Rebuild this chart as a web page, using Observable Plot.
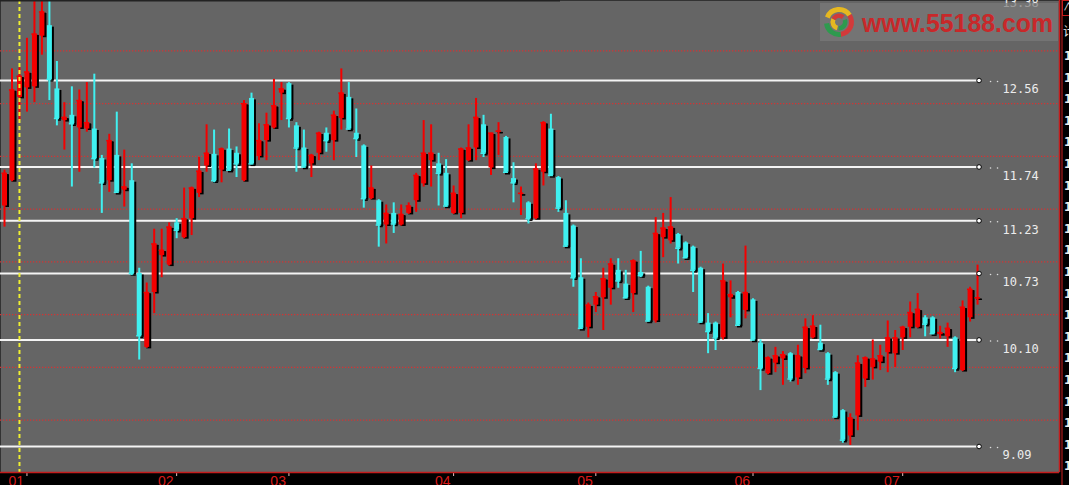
<!DOCTYPE html>
<html><head><meta charset="utf-8">
<script src="https://cdn.jsdelivr.net/npm/d3@7"></script>
<script src="https://cdn.jsdelivr.net/npm/@observablehq/plot@0.6"></script>
<style>html,body{margin:0;padding:0;background:#000;overflow:hidden}</style>
</head><body><div id="chart"></div>
<script>
// ---- data (daily candles) ----
const openP  = [11.37,11.61,12.40,12.49,12.50,12.98,13.08,12.48,12.18,12.23,12.11,12.10,12.10,11.82,11.61,11.85,11.52,11.61,10.73,10.03,10.55,10.90,10.81,11.21,11.07,11.25,11.49,11.75,11.86,11.71,11.91,11.87,11.61,12.39,11.84,11.99,12.11,12.44,12.53,12.13,11.92,11.77,11.87,12.06,11.99,12.20,12.40,12.06,11.94,11.44,11.42,11.19,11.30,11.19,11.30,11.42,11.58,11.80,11.77,11.68,11.30,11.30,11.80,11.92,12.14,11.73,12.07,12.02,11.63,11.48,11.40,11.25,11.69,12.10,11.64,11.30,11.18,10.69,10.22,10.43,10.50,10.59,10.76,10.63,10.54,10.74,10.60,10.28,11.07,11.04,11.10,11.02,10.98,10.78,10.26,10.26,10.12,10.50,10.55,10.38,10.48,10.07,9.78,9.88,9.92,9.97,9.74,9.83,10.12,10.07,9.97,9.79,9.43,9.19,9.38,9.73,9.84,9.89,9.98,9.97,10.12,10.22,10.22,10.31,10.31,10.15,10.13,10.12,9.81,10.31,10.49];
const highP  = [11.71,12.67,12.68,12.96,13.40,13.45,13.38,12.74,12.35,12.50,12.47,12.54,12.62,11.85,12.05,12.26,11.90,11.77,10.78,10.64,11.15,11.15,11.21,11.25,11.54,11.55,11.83,12.14,12.09,11.92,12.10,11.93,12.37,12.44,12.15,12.25,12.57,12.54,12.54,12.16,12.09,11.86,12.07,12.11,12.27,12.67,12.54,12.29,11.95,11.75,11.43,11.38,11.40,11.38,11.40,11.68,12.18,12.14,11.87,11.81,11.56,11.92,12.14,12.39,12.23,12.06,12.16,12.03,11.78,11.55,11.41,11.77,12.17,12.24,11.65,11.42,11.19,10.87,10.45,10.55,10.78,10.87,10.87,10.76,10.86,10.94,10.61,11.26,11.30,11.45,11.11,11.03,10.99,10.79,10.35,10.27,10.82,10.66,10.56,10.99,10.49,10.10,9.94,10.03,9.99,9.98,10.05,10.30,10.33,10.24,9.98,9.80,9.44,9.40,9.95,9.94,10.10,10.05,10.28,10.19,10.23,10.46,10.54,10.33,10.32,10.23,10.26,10.13,10.47,10.60,10.81];
const lowP   = [11.17,11.60,12.18,12.26,12.35,12.80,12.37,12.13,11.90,11.55,11.69,12.07,11.73,11.30,11.50,11.49,11.36,10.71,9.91,10.02,10.35,10.69,10.80,11.06,11.06,11.09,11.45,11.69,11.59,11.59,11.70,11.64,11.60,11.76,11.80,11.80,12.10,12.18,12.11,11.69,11.73,11.64,11.80,11.88,11.80,12.09,12.09,11.83,11.35,11.43,10.98,11.01,11.11,11.18,11.29,11.31,11.55,11.55,11.37,11.36,11.29,11.25,11.79,11.80,11.83,11.66,11.85,11.68,11.40,11.28,11.20,11.24,11.56,11.65,11.31,10.98,10.60,10.20,10.12,10.36,10.19,10.43,10.59,10.49,10.36,10.69,10.27,10.26,10.88,11.01,10.82,10.87,10.55,10.26,9.97,10.00,10.10,10.31,10.23,10.30,10.09,9.62,9.77,9.79,9.67,9.70,9.67,9.78,10.11,10.00,9.67,9.36,9.12,9.10,9.24,9.65,9.72,9.81,9.79,9.84,10.00,10.12,10.21,10.13,10.15,10.11,10.03,9.79,9.80,10.27,10.43];
const closeP = [11.68,12.47,12.60,12.64,13.00,13.21,12.57,12.20,12.21,12.15,12.37,12.16,11.82,11.59,11.99,11.50,11.55,10.73,10.14,10.55,11.01,10.95,11.17,11.14,11.25,11.54,11.70,11.87,11.61,11.91,11.71,11.77,12.34,11.77,11.99,12.14,12.32,12.48,12.20,11.92,11.74,11.85,12.06,11.99,12.23,12.44,12.10,12.01,11.44,11.54,11.19,11.30,11.20,11.29,11.37,11.66,11.87,11.87,11.68,11.37,11.49,11.91,11.92,12.21,11.87,12.06,12.08,11.69,11.59,11.49,11.25,11.72,12.16,11.66,11.35,10.99,10.69,10.21,10.43,10.51,10.68,10.82,10.66,10.50,10.85,10.71,10.28,11.11,11.16,11.17,10.97,10.88,10.76,10.27,10.18,10.12,10.66,10.53,10.24,10.55,10.10,9.83,9.93,9.95,9.96,9.73,9.95,10.22,10.23,10.01,9.73,9.37,9.15,9.36,9.88,9.93,9.92,9.95,10.12,10.12,10.22,10.36,10.39,10.25,10.16,10.17,10.21,9.83,10.41,10.58,10.50];
const monthIndex  = [3, 23, 38, 60, 79, 100, 120];
const monthLabels = ["01","02","03","04","05","06","07"];
const levels      = [13.38, 12.56, 11.74, 11.23, 10.73, 10.10, 9.09];
const gridLevels  = [12.84, 12.34, 11.84, 11.34, 10.84, 10.34, 9.84, 9.34];
const markerIndex = 2;
const sideGlyphs  = ["1","1","1","1","1","1","1","1","1","1","1","1","1","1","1","1","1","1","1","1"];

// ---- layout ----
const W = 1069, H = 485;
const STEP = 7.485, X0 = 4;
const PLOT_R = 1059, PLOT_B = 472;
const RED = "#f40000", CYAN = "#40f0f0", GREY = "#656565";

const candles = openP.map((o, i) => ({i, o, h: highP[i], l: lowP[i], c: closeP[i], up: closeP[i] >= o}));
const upC = candles.filter(d => d.up), downC = candles.filter(d => !d.up);
const N = candles.length;
const xDomain = [-X0 / STEP, (PLOT_R - X0) / STEP];
const half = 0.34;

const chart = Plot.plot({
  width: W, height: H,
  marginLeft: 0, marginRight: W - PLOT_R, marginTop: 0, marginBottom: H - PLOT_B,
  style: {background: "#000", overflow: "hidden"},
  x: {domain: xDomain, range: [0, PLOT_R], axis: null},
  y: {domain: [9.09, 12.56], range: [446, 80], axis: null},
  marks: [
    Plot.frame({fill: GREY, stroke: "none"}),
    Plot.ruleY(gridLevels, {stroke: "#d23434", strokeWidth: 1.3, strokeDasharray: "1.3,1.7"}),
    Plot.ruleY(levels, {x1: xDomain[0], x2: N - 1, stroke: "#f4f4f4", strokeWidth: 2}),
    // shadows
    Plot.ruleX(candles, {x: "i", y1: "o", y2: "c", stroke: "#000", strokeWidth: 5, dx: 2, dy: 1.5}),
    Plot.ruleY(candles, {y: "c", x1: d => d.i - half, x2: d => d.i + half, stroke: "#000", strokeWidth: 1.5, dx: 2, dy: 1.5}),
    // wicks
    Plot.ruleX(upC, {x: "i", y1: "l", y2: "h", stroke: RED, strokeWidth: 2}),
    Plot.ruleX(downC, {x: "i", y1: "l", y2: "h", stroke: CYAN, strokeWidth: 2}),
    // bodies
    Plot.ruleX(upC, {x: "i", y1: "o", y2: "c", stroke: RED, strokeWidth: 5}),
    Plot.ruleX(downC, {x: "i", y1: "o", y2: "c", stroke: CYAN, strokeWidth: 5}),
    Plot.ruleY(upC, {y: "c", x1: d => d.i - half, x2: d => d.i + half, stroke: RED, strokeWidth: 1.5}),
    Plot.ruleY(downC, {y: "c", x1: d => d.i - half, x2: d => d.i + half, stroke: CYAN, strokeWidth: 1.5}),
    // yellow dashed marker
    Plot.ruleX([markerIndex], {stroke: "#f0f030", strokeWidth: 2, strokeDasharray: "4,3"}),
    // level end markers and labels
    Plot.dot(levels, {x: N - 1, y: d => d, dx: 1.5, r: 2.3, fill: "#fff", stroke: "#000", strokeWidth: 1}),
    Plot.dot(levels, {x: N - 1, y: d => d, dx: 13, dy: 1, r: 0.8, fill: "#ddd"}),
    Plot.dot(levels, {x: N - 1, y: d => d, dx: 20, dy: 1, r: 0.8, fill: "#ddd"}),
    Plot.text(levels, {x: N - 1, y: d => d, text: d => d.toFixed(2), dx: 25, dy: 9, textAnchor: "start",
      fill: "#ececec", fontFamily: "DejaVu Sans Mono", fontSize: 12}),
    // month axis
    Plot.axisX(monthIndex, {tickSize: 4, tickFormat: () => "", stroke: "#e8c0c0"}),
    Plot.text(monthIndex, {x: d => d, text: (d, i) => monthLabels[i], frameAnchor: "bottom", lineAnchor: "top",
      dy: 4, dx: -3, textAnchor: "end", fill: "#d81818", fontFamily: "Liberation Sans", fontSize: 14})
  ]
});
document.getElementById("chart").appendChild(chart);

// ---- chrome: borders, side strip, watermark ----
const svg = d3.select(chart);
const g = svg.append("g").attr("text-anchor", "start");
g.append("rect").attr("x", 0).attr("y", 0).attr("width", 560).attr("height", 1.5).attr("fill", "#222");
g.append("line").attr("x1", 0).attr("x2", PLOT_R).attr("y1", PLOT_B + 0.5).attr("y2", PLOT_B + 0.5)
  .attr("stroke", "#c41c1c").attr("stroke-width", 1.5);
g.append("line").attr("x1", PLOT_R + 0.5).attr("x2", PLOT_R + 0.5).attr("y1", 0).attr("y2", PLOT_B)
  .attr("stroke", "#c41c1c").attr("stroke-width", 1.5);
// side strip (cut-off panel at the right edge)
g.append("line").attr("x1", 1062).attr("x2", 1062).attr("y1", 0).attr("y2", H).attr("stroke", "#8a1414").attr("stroke-width", 1.5);
g.append("rect").attr("x", 1062.5).attr("y", 0.5).attr("width", 8).attr("height", 15).attr("fill", "none").attr("stroke", "#c41c1c");
g.append("text").attr("x", 1063).attr("y", 11).attr("fill", "#eee").attr("font-size", 11).attr("font-family", "Noto Sans CJK SC").text("∧");
g.append("text").attr("x", 1063).attr("y", 36).attr("fill", "#eee").attr("font-size", 12).attr("font-family", "Noto Sans CJK SC").text("计");
sideGlyphs.forEach((t, k) => {
  g.append("text").attr("x", 1064).attr("y", 60 + k * 21.6).attr("fill", "#f0f0f0")
    .attr("font-size", 13).attr("font-family", "DejaVu Sans Mono").attr("font-weight", "bold").text(t);
});
// watermark
const wm = g.append("g");
wm.append("rect").attr("x", 820).attr("y", 3).attr("width", 238).attr("height", 38).attr("fill", "#7a7a7a").attr("opacity", 0.7);
const arc = d3.arc();
const cx = 839, cy = 22;
[[-1.2, 1.0, "#e6b820", 10, 15], [1.0, 3.0, "#d23a3a", 10, 15], [3.0, 4.6, "#2e9a4e", 10, 15],
 [3.4, 5.2, "#e6b820", 4, 8.5], [5.2, 7.0, "#d23a3a", 4, 8.5], [1.2, 3.2, "#2e9a4e", 4, 8.5]].forEach(([a0, a1, col, r0, r1]) => {
  wm.append("path").attr("transform", `translate(${cx},${cy})`)
    .attr("d", arc({innerRadius: r0, outerRadius: r1, startAngle: a0, endAngle: a1})).attr("fill", col);
});
wm.append("text").attr("x", 862).attr("y", 32).attr("text-anchor", "start").attr("fill", "#c8282a").attr("font-family", "Liberation Sans")
  .attr("font-weight", "bold").attr("font-size", 26).attr("textLength", 191).attr("lengthAdjust", "spacingAndGlyphs")
  .text("www.55188.com");
</script></body></html>
